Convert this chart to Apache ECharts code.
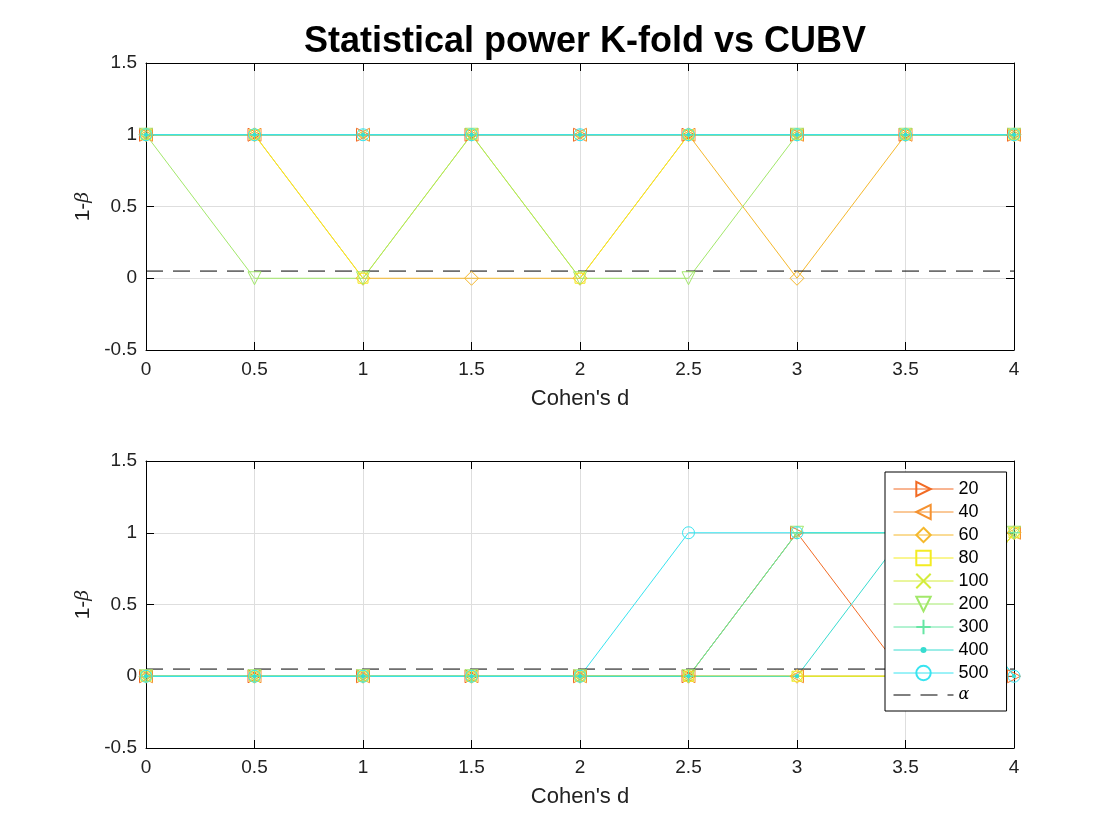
<!DOCTYPE html>
<html>
<head>
<meta charset="utf-8">
<title>Statistical power K-fold vs CUBV</title>
<script src="https://cdn.jsdelivr.net/npm/echarts@6/dist/echarts.min.js"></script>
<style>
  html, body { margin: 0; padding: 0; background: #fff; }
  #chart { width: 1120px; height: 840px; }
</style>
</head>
<body>
<div id="chart"></div>
<script>
// Cohen's d values on the x axis
var dValues = [0, 0.5, 1, 1.5, 2, 2.5, 3, 3.5, 4];
var sampleSizes = ['20', '40', '60', '80', '100', '200', '300', '400', '500'];
var alpha = 0.05;

// top panel (K-fold), power per sample size
var kfold20  = [1, 1, 1, 1, 1, 1, 1, 1, 1];
var kfold40  = [1, 1, 1, 1, 1, 1, 1, 1, 1];
var kfold60  = [1, 1, 0, 0, 0, 1, 0, 1, 1];
var kfold80  = [1, 1, 0, 1, 0, 1, 1, 1, 1];
var kfold100 = [1, 1, 1, 1, 1, 1, 1, 1, 1];
var kfold200 = [1, 0, 0, 1, 0, 0, 1, 1, 1];
var kfold300 = [1, 1, 1, 1, 1, 1, 1, 1, 1];
var kfold400 = [1, 1, 1, 1, 1, 1, 1, 1, 1];
var kfold500 = [1, 1, 1, 1, 1, 1, 1, 1, 1];

// bottom panel (CUBV)
var cubv20  = [0, 0, 0, 0, 0, 0, 1, 0, 0];
var cubv40  = [0, 0, 0, 0, 0, 0, 0, 0, 1];
var cubv60  = [0, 0, 0, 0, 0, 0, 0, 0, 1];
var cubv80  = [0, 0, 0, 0, 0, 0, 0, 0, 1];
var cubv100 = [0, 0, 0, 0, 0, 0, 0, 0, 1];
var cubv200 = [0, 0, 0, 0, 0, 0, 1, 1, 1];
var cubv300 = [0, 0, 0, 0, 0, 0, 1, 1, 1];
var cubv400 = [0, 0, 0, 0, 0, 0, 0, 1, 0];
var cubv500 = [0, 0, 0, 0, 0, 1, 1, 1, 0];

var topSets = [kfold20, kfold40, kfold60, kfold80, kfold100, kfold200, kfold300, kfold400, kfold500];
var bottomSets = [cubv20, cubv40, cubv60, cubv80, cubv100, cubv200, cubv300, cubv400, cubv500];

var colors = ['#f26b24', '#f59230', '#f5b82c', '#f4ec22', '#d4ec3a', '#a2e86a', '#66e6a4', '#38dcd0', '#38e4f0'];
var none = 'rgba(0,0,0,0)';
var markers = [
  { symbol: 'triangle', size: 13, rotate: -90, fill: none },
  { symbol: 'triangle', size: 13, rotate: 90, fill: none },
  { symbol: 'diamond', size: 14, rotate: 0, fill: none },
  { symbol: 'rect', size: 10, rotate: 0, fill: none },
  { symbol: 'path://M0,0L10,10M0,10L10,0', size: 10, rotate: 0, fill: none },
  { symbol: 'triangle', size: 13, rotate: 180, fill: none },
  { symbol: 'path://M5,0L5,10M0,5L10,5', size: 12, rotate: 0, fill: none },
  { symbol: 'path://M0,0L0,0M10,10L10,10M5,3.6A1.4,1.4,0,1,1,5,6.4A1.4,1.4,0,1,1,5,3.6Z', size: 12, rotate: 0, fill: 'fill' },
  { symbol: 'circle', size: 12, rotate: 0, fill: none }
];

var font = 'Liberation Sans, Helvetica, Arial, sans-serif';
var panels = [{ top: 63 }, { top: 461 }];
var plotHeight = 287;

var grids = [], xAxes = [], yAxes = [], series = [];

panels.forEach(function (p, k) {
  grids.push({ left: 146, right: 106, top: p.top, height: plotHeight, containLabel: false });
  xAxes.push({
    type: 'value', gridIndex: k, min: 0, max: 4, interval: 0.5,
    name: "Cohen's d", nameLocation: 'middle', nameGap: 38,
    nameTextStyle: { fontFamily: font, fontSize: 22, color: '#222' },
    axisLine: { show: true, onZero: false, lineStyle: { color: '#000', width: 1 } },
    axisTick: { show: true, inside: true, length: 8, lineStyle: { color: '#000' } },
    axisLabel: { fontFamily: font, fontSize: 19, color: '#222', margin: 10 },
    splitLine: { show: true, lineStyle: { color: '#dedede', width: 1 } }
  });
  xAxes.push({
    type: 'value', gridIndex: k, min: 0, max: 4, interval: 0.5, position: 'top',
    axisLine: { show: true, onZero: false, lineStyle: { color: '#000', width: 1 } },
    axisTick: { show: true, inside: true, length: 8, lineStyle: { color: '#000' } },
    axisLabel: { show: false }, splitLine: { show: false }
  });
  yAxes.push({
    type: 'value', gridIndex: k, min: -0.5, max: 1.5, interval: 0.5,
    name: '1-{b|β}', nameLocation: 'middle', nameGap: 50,
    nameTextStyle: {
      fontFamily: font, fontSize: 21, color: '#222',
      rich: { b: { fontFamily: 'DejaVu Serif, serif', fontStyle: 'italic', fontSize: 19, color: '#222' } }
    },
    axisLine: { show: true, onZero: false, lineStyle: { color: '#000', width: 1 } },
    axisTick: { show: true, inside: true, length: 8, lineStyle: { color: '#000' } },
    axisLabel: { fontFamily: font, fontSize: 19, color: '#222', margin: 9 },
    splitLine: { show: true, lineStyle: { color: '#dedede', width: 1 } }
  });
  yAxes.push({
    type: 'value', gridIndex: k, min: -0.5, max: 1.5, interval: 0.5, position: 'right',
    axisLine: { show: true, onZero: false, lineStyle: { color: '#000', width: 1 } },
    axisTick: { show: true, inside: true, length: 8, lineStyle: { color: '#000' } },
    axisLabel: { show: false }, splitLine: { show: false }
  });

  var sets = k === 0 ? topSets : bottomSets;
  sets.forEach(function (vals, i) {
    var m = markers[i];
    series.push({
      type: 'line',
      name: sampleSizes[i],
      xAxisIndex: k * 2,
      yAxisIndex: k * 2,
      data: dValues.map(function (d, j) { return [d, vals[j]]; }),
      symbol: m.symbol,
      symbolSize: m.size,
      symbolRotate: m.rotate,
      showAllSymbol: true,
      lineStyle: { color: colors[i], width: 1 },
      itemStyle: { color: m.fill === 'fill' ? colors[i] : none, borderColor: colors[i], borderWidth: 1 },
      emphasis: { disabled: true },
      animation: false
    });
  });

  series.push({
    type: 'line',
    name: 'α',
    xAxisIndex: k * 2,
    yAxisIndex: k * 2,
    data: [[dValues[0], alpha], [dValues[dValues.length - 1], alpha]],
    symbol: 'path://M0,0L0,0M10,10L10,10',
    showSymbol: false,
    lineStyle: { color: '#000', width: 1, type: [17, 10] },
    itemStyle: { color: none, borderColor: none },
    emphasis: { disabled: true },
    animation: false
  });
});

var chart = echarts.init(document.getElementById('chart'));
chart.setOption({
  backgroundColor: '#fff',
  animation: false,
  title: {
    text: 'Statistical power K-fold vs CUBV',
    left: 580, top: 19, textAlign: 'center',
    textStyle: { fontFamily: font, fontSize: 36, fontWeight: 'bold', color: '#000' }
  },
  legend: {
    data: sampleSizes.concat(['α']),
    orient: 'vertical',
    left: 885, top: 472,
    itemWidth: 60, itemHeight: 18, itemGap: 5,
    padding: [8, 18, 8, 8],
    backgroundColor: '#fff',
    borderColor: '#000', borderWidth: 1,
    selectedMode: false,
    lineStyle: { width: 1 },
    formatter: function (name) { return name === 'α' ? '{a|α}' : name; },
    textStyle: {
      fontFamily: font, fontSize: 18, color: '#000',
      rich: { a: { fontFamily: 'DejaVu Serif, serif', fontStyle: 'italic', fontSize: 16, color: '#000' } }
    }
  },
  grid: grids,
  xAxis: xAxes,
  yAxis: yAxes,
  series: series
});
</script>
</body>
</html>
